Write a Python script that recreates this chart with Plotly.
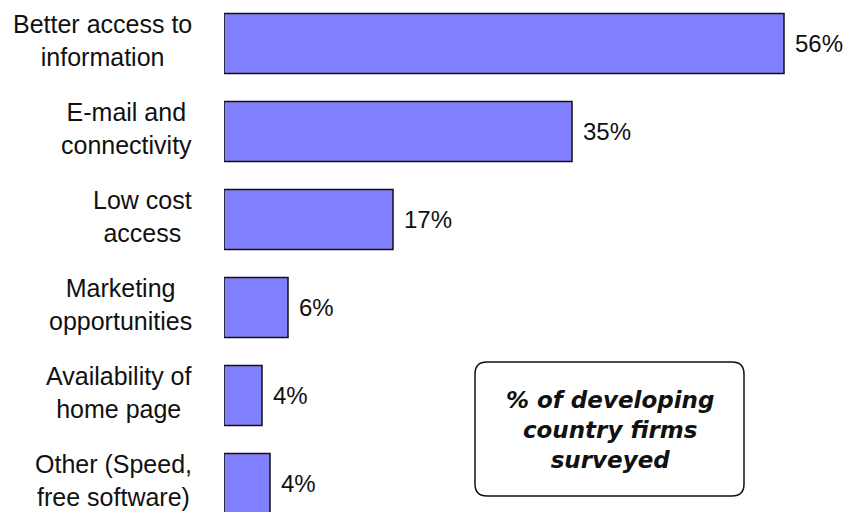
import plotly.graph_objects as go

categories = [
    "Better access to<br>information",
    "E-mail and<br>connectivity",
    "Low cost<br>access",
    "Marketing<br>opportunities",
    "Availability of<br>home page",
    "Other (Speed,<br>free software)",
]
values = [56, 34.8, 16.9, 6.4, 3.8, 4.6]
value_labels = ["56%", "35%", "17%", "6%", "4%", "4%"]
note_text = "% of developing<br>country firms<br>surveyed"

W, H = 850, 512
ML, MR = 224, 26

fig = go.Figure()
fig.add_trace(go.Bar(
    x=values, y=categories, orientation="h",
    width=0.68,
    marker=dict(color="#8080ff", line=dict(color="#111111", width=1.5)),
    hoverinfo="skip",
))

cat_font = dict(family="Liberation Sans, Arial, sans-serif", size=25, color="#111111")
val_font = dict(family="Liberation Sans, Arial, sans-serif", size=24, color="#111111")

for cat in categories:
    fig.add_annotation(
        x=0, xref="paper", y=cat, yref="y",
        text=cat, showarrow=False, xanchor="right", yanchor="middle",
        align="center", xshift=-30, yshift=3, font=cat_font,
    )

for cat, v, lab in zip(categories, values, value_labels):
    fig.add_annotation(
        x=v, xref="x", y=cat, yref="y",
        text=lab, showarrow=False, xanchor="left", yanchor="middle",
        xshift=9, font=val_font,
    )

# rounded note box (pixel geometry converted to paper coordinates)
pw = W - ML - MR
def px(x):
    return (x - ML) / pw
def py(y):
    return 1 - y / H
bx0, bx1, by0, by1, r = 475, 744, 362, 496, 12
path = (
    f"M {px(bx0 + r)} {py(by0)} L {px(bx1 - r)} {py(by0)} "
    f"Q {px(bx1)} {py(by0)} {px(bx1)} {py(by0 + r)} "
    f"L {px(bx1)} {py(by1 - r)} Q {px(bx1)} {py(by1)} {px(bx1 - r)} {py(by1)} "
    f"L {px(bx0 + r)} {py(by1)} Q {px(bx0)} {py(by1)} {px(bx0)} {py(by1 - r)} "
    f"L {px(bx0)} {py(by0 + r)} Q {px(bx0)} {py(by0)} {px(bx0 + r)} {py(by0)} Z"
)
fig.add_shape(type="path", path=path, xref="paper", yref="paper",
              line=dict(color="#111111", width=1.5), fillcolor="white", layer="above")
fig.add_annotation(
    x=px((bx0 + bx1) / 2), xref="paper", y=py((by0 + by1) / 2), yref="paper",
    text=note_text, showarrow=False, xanchor="center", yanchor="middle", align="center",
    yshift=-1,
    font=dict(family="DejaVu Sans, sans-serif", size=23, color="#111111",
              weight="bold", style="italic"),
)

fig.update_layout(
    width=W, height=H,
    margin=dict(l=ML, r=MR, t=0, b=0),
    paper_bgcolor="white", plot_bgcolor="white",
    showlegend=False,
    xaxis=dict(range=[0, 60], visible=False),
    yaxis=dict(type="category", range=[5.324, -0.494], visible=False),
)

fig.write_html(
    "out.html",
    config={"displayModeBar": False},
    post_script="document.body.style.margin='0px';document.body.style.overflow='hidden';",
)
